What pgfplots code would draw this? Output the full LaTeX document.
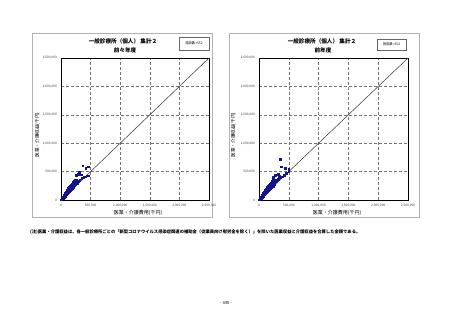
\documentclass[border=0pt]{standalone}
\usepackage{fontspec}
\setmainfont{Noto Sans CJK JP}
\usepackage{pgfplots}
\pgfplotsset{compat=1.18}
\definecolor{pt}{RGB}{20,20,140}
\pgfplotsset{
  scat/.style={
    width=148pt, height=142pt, scale only axis, anchor=south west,
    xmin=0, xmax=2500, ymin=0, ymax=2500,
    xtick={0,500,1000,1500,2000,2500}, ytick={0,500,1000,1500,2000,2500},
    xticklabels={0,{500,000},{1,000,000},{1,500,000},{2,000,000},{2,500,000}},
    yticklabels={0,{500,000},{1,000,000},{1,500,000},{2,000,000},{2,500,000}},
    grid=major, grid style={densely dashed, black!55, line width=0.4pt},
    axis line style={line width=0.8pt}, major tick length=0pt,
    ticklabel style={font=\fontsize{3.2}{4}\selectfont, text=black!80},
    xticklabel style={yshift=-0.5pt}, yticklabel style={xshift=-0.5pt},
    clip=true,
  }
}
\begin{document}
\begin{tikzpicture}
\path[use as bounding box, fill=white] (0pt,0pt) rectangle (453pt,320pt);
% outer boxes
\draw[black!30, line width=0.6pt] (32pt,103pt) rectangle (212pt,287pt);
\draw[black!30, line width=0.6pt] (229pt,103pt) rectangle (419pt,287pt);
% left chart
\begin{axis}[scat, at={(61pt,120pt)}]
\addplot[black!80, line width=0.5pt] coordinates {(0,0) (2500,2500)};
\addplot[only marks, mark=square*, mark size=0.75pt, color=pt] coordinates {
(3,5)(7,9)(9,16)(12,11)(14,24)(17,19)(19,31)(21,26)(23,20)(26,41)(27,33)(29,27)(31,49)(33,38)(34,30)(36,55)(38,44)(39,36)(41,62)(43,50)(44,41)(46,70)(47,57)(49,46)(51,78)(52,63)(54,52)(55,88)(57,69)(58,57)(60,95)(61,76)(63,62)(64,101)(66,83)(67,68)(69,112)(70,90)(72,74)(74,118)(75,95)(77,81)(79,126)(80,101)(82,86)(84,140)(85,108)(87,92)(89,146)(90,116)(92,98)(94,158)(96,122)(98,104)(100,166)(102,130)(104,110)(107,178)(109,139)(111,118)(114,190)(116,148)(119,126)(122,205)(124,158)(127,136)(130,218)(133,170)(136,146)(140,232)(143,182)(147,158)(151,250)(155,196)(159,170)(163,268)(168,212)(173,185)(178,285)(184,228)(190,204)(197,300)(205,246)(212,225)(222,262)(232,250)(245,275)
(40,48)(55,66)(70,84)(85,100)(100,120)(115,138)(130,155)(145,175)(160,192)(50,60)(65,77)(80,95)(95,113)(110,131)(125,150)(140,168)(155,186)(30,36)(45,54)(60,72)(75,90)(90,108)(105,126)(120,144)(135,162)(150,180)(165,200)(180,215)(195,235)(210,250)
(254,440)(287,452)(310,481)(338,445)(304,487)(367,600)(417,563)(462,587)(260,310)(275,300)(295,330)(320,350)(350,380)(380,400)(405,410)(440,425)(462,428)(225,330)(240,360)(200,320)(215,290)(260,345)
};
\end{axis}
% right chart
\begin{axis}[scat, at={(259pt,120pt)}, width=149pt]
\addplot[black!80, line width=0.5pt] coordinates {(0,0) (2500,2500)};
\addplot[only marks, mark=square*, mark size=0.75pt, color=pt] coordinates {
(4,6)(8,10)(10,18)(13,12)(15,26)(18,20)(20,34)(22,27)(24,21)(27,44)(29,35)(31,29)(33,52)(35,40)(36,32)(38,59)(40,47)(41,38)(43,66)(45,53)(47,44)(49,75)(50,60)(52,49)(54,83)(55,67)(57,55)(59,94)(61,73)(62,61)(64,101)(65,81)(67,66)(69,108)(71,88)(72,72)(74,120)(75,96)(77,79)(79,126)(80,101)(82,86)(85,135)(86,108)(88,92)(90,150)(91,115)(93,98)(95,156)(96,124)(98,104)(101,169)(103,130)(105,111)(108,177)(110,139)(112,117)(115,190)(117,148)(119,126)(122,203)(124,158)(127,134)(130,219)(133,169)(136,145)(140,232)(143,182)(147,157)(151,248)(155,196)(159,169)(163,265)(168,210)(173,182)(178,286)(184,227)(190,198)(197,305)(205,245)(212,219)(220,320)(228,270)(236,242)(248,300)(260,282)(272,350)
(43,52)(59,70)(75,90)(91,107)(107,128)(123,148)(139,166)(155,187)(171,205)(53,64)(69,82)(85,102)(101,121)(117,140)(133,160)(149,179)(165,198)(32,38)(48,58)(64,77)(80,96)(96,115)(112,134)(128,154)(144,173)(160,192)(176,214)(192,230)(208,252)(224,268)
(358,716)(370,586)(442,558)(499,551)(325,452)(342,422)(269,440)(314,364)(230,410)(250,330)(280,360)(300,330)(330,370)(360,395)(390,410)(420,435)(460,470)(495,505)(240,380)(210,340)(225,300)(285,320)
};
\end{axis}
% titles
\node[font=\fontsize{5.6}{6.5}\selectfont\bfseries] at (123pt,278.5pt) {一般診療所（個人） 集計２};
\node[font=\fontsize{5.6}{6.5}\selectfont\bfseries] at (125pt,270pt) {前々年度};
\node[font=\fontsize{5.6}{6.5}\selectfont\bfseries] at (322pt,278.5pt) {一般診療所（個人） 集計２};
\node[font=\fontsize{5.6}{6.5}\selectfont\bfseries] at (323pt,270pt) {前年度};
% boxes
\draw[black!60, line width=0.4pt] (179pt,270pt) rectangle (209pt,283pt);
\node[font=\fontsize{3.3}{4}\selectfont] at (194pt,276.5pt) {施設数=552};
\draw[black!60, line width=0.4pt] (377pt,270pt) rectangle (406pt,281pt);
\node[font=\fontsize{3.3}{4}\selectfont] at (391.5pt,275.5pt) {施設数=552};
% axis labels
\node[font=\fontsize{5}{6}\selectfont] at (138pt,107pt) {医業・介護費用(千円)};
\node[font=\fontsize{5}{6}\selectfont] at (337pt,107pt) {医業・介護費用(千円)};
\node[font=\fontsize{4.6}{5.5}\selectfont, rotate=90] at (37.5pt,185pt) {医業・介護収益(千円)};
\node[font=\fontsize{4.6}{5.5}\selectfont, rotate=90] at (233.5pt,185pt) {医業・介護収益(千円)};
% footnote
\node[anchor=west, font=\fontsize{4.3}{5}\selectfont\bfseries, inner sep=0pt] at (30pt,88pt) {(注)医業・介護収益は、各一般診療所ごとの「新型コロナウイルス感染症関連の補助金（従業員向け慰労金を除く）」を除いた医業収益と介護収益を合算した金額である。};
\node[font=\fontsize{4.2}{5}\selectfont] at (226pt,17pt) {- 345 -};
\end{tikzpicture}
\end{document}
